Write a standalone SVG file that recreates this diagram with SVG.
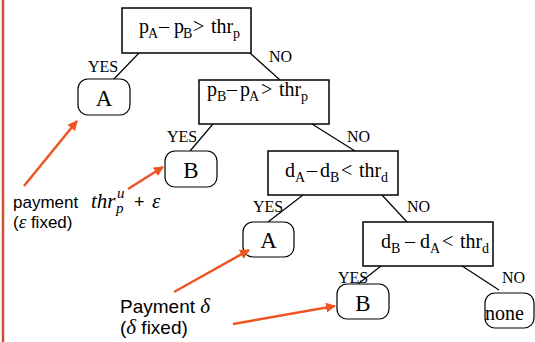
<svg xmlns="http://www.w3.org/2000/svg" width="535" height="342" viewBox="0 0 535 342">
<defs>
<style>
.box{fill:#fff;stroke:#000;stroke-width:1.5}
.leaf{fill:#fff;stroke:#000;stroke-width:1.2}
.t{font-family:"Liberation Serif","Times New Roman",serif;font-size:20px;fill:#000}
.n{font-family:"Liberation Serif","Times New Roman",serif;font-size:23px;fill:#000}
.s{font-size:14px}
.lbl{font-family:"Liberation Serif","Times New Roman",serif;font-size:16px;fill:#000}
.edge{stroke:#000;stroke-width:1.2;fill:none}
.ann{stroke:#ee5522;stroke-width:2.5;fill:none;marker-end:url(#ah)}
.note{font-family:"Liberation Sans",Arial,sans-serif;fill:#000}
.m{font-family:"Liberation Serif","Times New Roman",serif;font-style:italic}
</style>
<marker id="ah" viewBox="0 0 10 10" refX="9" refY="5" markerWidth="4" markerHeight="4" orient="auto" markerUnits="strokeWidth">
<path d="M0,0 L10,5 L0,10 z" fill="#ee5522"/>
</marker>
</defs>
<rect width="535" height="342" fill="#fff"/>
<line x1="3" y1="0" x2="3" y2="342" stroke="#c9502a" stroke-width="2.5"/>

<g id="connectors">
<line class="edge" x1="139" y1="53" x2="113" y2="80"/>
<line class="edge" x1="250" y1="53" x2="280" y2="80"/>
<line class="edge" x1="213" y1="124" x2="190" y2="151"/>
<line class="edge" x1="312" y1="124" x2="355" y2="151"/>
<line class="edge" x1="303" y1="195" x2="268" y2="222"/>
<line class="edge" x1="382" y1="195" x2="407" y2="222"/>
<line class="edge" x1="381" y1="266" x2="358" y2="284"/>
<line class="edge" x1="456" y1="262" x2="499" y2="290"/>
<text class="lbl" x="88" y="72">YES</text>
<text class="lbl" x="269" y="62">NO</text>
<text class="lbl" x="167" y="142">YES</text>
<text class="lbl" x="347" y="142">NO</text>
<text class="lbl" x="253" y="212">YES</text>
<text class="lbl" x="407" y="212">NO</text>
<text class="lbl" x="338" y="283">YES</text>
<text class="lbl" x="502" y="283">NO</text>
</g>

<g id="q1">
<rect class="box" x="122" y="8" width="129" height="45"/>
<text class="t" y="33"><tspan x="139">p</tspan><tspan class="s" x="148" y="38">A</tspan><tspan x="159" y="33">–</tspan><tspan x="174">p</tspan><tspan class="s" x="183" y="38">B</tspan><tspan x="193" y="33">&gt;</tspan><tspan x="211">thr</tspan><tspan class="s" x="233" y="38">p</tspan></text>
</g>
<g id="leafA1">
<rect class="leaf" x="78" y="79" width="52" height="36" rx="10"/>
<text class="n" x="104" y="106" text-anchor="middle">A</text>
</g>
<g id="q2">
<rect class="box" x="199" y="80" width="130" height="44"/>
<text class="t" y="96"><tspan x="207">p</tspan><tspan class="s" x="217" y="101">B</tspan><tspan x="227" y="96">–</tspan><tspan x="240">p</tspan><tspan class="s" x="249" y="101">A</tspan><tspan x="261" y="96">&gt;</tspan><tspan x="279">thr</tspan><tspan class="s" x="301" y="101">p</tspan></text>
</g>
<g id="leafB1">
<rect class="leaf" x="165" y="151" width="52" height="36" rx="10"/>
<text class="n" x="191" y="178" text-anchor="middle">B</text>
</g>
<g id="q3">
<rect class="box" x="268" y="151" width="130" height="44"/>
<text class="t" y="177"><tspan x="285">d</tspan><tspan class="s" x="295" y="182">A</tspan><tspan x="307" y="177">–</tspan><tspan x="320">d</tspan><tspan class="s" x="330" y="182">B</tspan><tspan x="341" y="177">&lt;</tspan><tspan x="359">thr</tspan><tspan class="s" x="381" y="182">d</tspan></text>
</g>
<g id="leafA2">
<rect class="leaf" x="243" y="222" width="51" height="35" rx="10"/>
<text class="n" x="268.5" y="248" text-anchor="middle">A</text>
</g>
<g id="q4">
<rect class="box" x="363" y="222" width="130" height="44"/>
<text class="t" y="248"><tspan x="381">d</tspan><tspan class="s" x="391" y="253">B</tspan><tspan x="405" y="248">–</tspan><tspan x="420">d</tspan><tspan class="s" x="430" y="253">A</tspan><tspan x="442" y="248">&lt;</tspan><tspan x="460">thr</tspan><tspan class="s" x="482" y="253">d</tspan></text>
</g>
<g id="leafB2">
<rect class="leaf" x="337" y="284" width="52" height="35" rx="10"/>
<text class="n" x="363" y="311" text-anchor="middle">B</text>
</g>
<g id="leafNone">
<rect class="leaf" x="485" y="293" width="49" height="35" rx="10"/>
<text class="t" x="485" y="320" font-size="21">none</text>
</g>

<g id="annotations">
<line class="ann" x1="24" y1="186" x2="77" y2="121"/>
<line class="ann" x1="128" y1="189" x2="163" y2="167"/>
<line class="ann" x1="174" y1="292" x2="249" y2="250"/>
<line class="ann" x1="233" y1="324" x2="335" y2="306"/>
<text class="note" y="208" font-size="17"><tspan x="13">payment</tspan><tspan class="m" x="91" font-size="21">thr</tspan><tspan class="m" x="116" y="213" font-size="15">p</tspan><tspan class="m" x="117" y="198" font-size="15">u</tspan><tspan x="134" y="208" font-size="18">+</tspan><tspan class="m" x="152" font-size="21">ε</tspan></text>
<text class="note" x="13" y="228" font-size="17">(<tspan class="m" font-size="19">ε</tspan> fixed)</text>
<text class="note" x="120" y="313" font-size="19">Payment <tspan class="m" font-size="21">δ</tspan></text>
<text class="note" x="120" y="334" font-size="19">(<tspan class="m" font-size="21">δ</tspan> fixed)</text>
</g>
</svg>
